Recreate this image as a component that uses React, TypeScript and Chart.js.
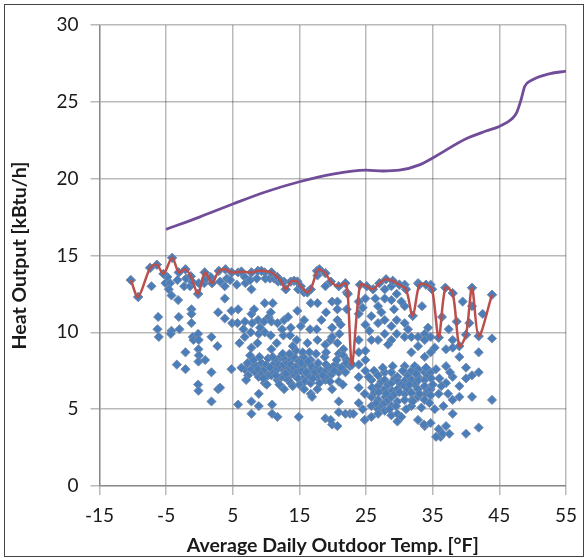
import { useEffect, useRef } from "react";
import { Chart, registerables } from "chart.js";

Chart.register(...registerables);

// Daily average outdoor temperature [°F] vs. measured heat output [kBtu/h]
const dailyPoints: [number, number][] = [
  // below -5 °F
  [-10.3, 13.4], [-9.2, 12.3], [-7.4, 14.2], [-7.2, 13.0], [-6.4, 14.4], [-6.2, 11.0], [-6.3, 10.2], [-6.1, 9.7],
  // -5 to 5 °F
  [-5.4, 13.8], [-5.1, 13.2], [-4.8, 13.6], [-4.1, 14.85], [-4.4, 13.2], [-4.6, 12.8], [-4.2, 12.4], [-4.2, 10.1], [-4.3, 9.9], [-3.4, 7.9],
  [-3.1, 13.9], [-3.3, 13.4], [-3.2, 12.1], [-3.1, 11.0], [-3.0, 10.2], [-2.1, 14.1], [-2.0, 13.5], [-2.3, 13.0], [-2.1, 8.7], [-2.1, 7.6],
  [-1.3, 13.65], [-1.4, 13.0], [-1.1, 13.3], [-1.2, 11.5], [-1.2, 11.2], [-1.2, 10.6], [-1.0, 9.7], [-0.9, 9.5],
  [-0.2, 12.5], [-0.1, 13.2], [-0.2, 9.9], [-0.1, 9.5], [-0.15, 8.9], [-0.1, 8.5], [-0.15, 8.1], [-0.2, 6.6], [-0.15, 6.2],
  [0.8, 13.9], [0.7, 13.2], [1.0, 13.5], [0.85, 8.2], [1.9, 13.2], [1.7, 13.6], [1.8, 9.7], [1.8, 7.4], [1.8, 5.5],
  [2.9, 14.0], [3.1, 13.3], [2.8, 11.3], [2.7, 9.1], [2.8, 6.3], [3.9, 14.1], [3.8, 13.0], [4.1, 13.5], [3.8, 12.2], [3.8, 10.9], [3.1, 6.4],
  [4.85, 13.9], [4.6, 13.4], [4.8, 11.4], [4.9, 10.6], [4.8, 7.6],
  // 5 to 15 °F
  [5.8, 13.9], [5.6, 13.1], [5.8, 11.5], [5.7, 10.6], [5.8, 5.3], [6.3, 13.95], [6.8, 13.6], [6.9, 13.2], [6.8, 10.7], [6.6, 10.2], [6.8, 9.7], [6.8, 7.6], [7.2, 8.0], [7.3, 7.2],
  [7.8, 13.9], [7.6, 13.4], [7.8, 12.8], [7.8, 11.2], [7.9, 10.6], [7.7, 10.0], [7.8, 9.0], [7.6, 8.5], [7.8, 7.6], [7.8, 5.5], [7.8, 4.7], [8.3, 7.9], [8.4, 7.4],
  [8.75, 14.0], [8.6, 13.5], [8.8, 10.8], [8.9, 9.9], [8.7, 9.3], [8.8, 7.6], [8.9, 7.1], [8.9, 6.0], [8.9, 5.2], [9.3, 14.0], [9.3, 8.0], [9.4, 7.3],
  [9.8, 13.9], [9.9, 13.5], [9.8, 11.9], [9.7, 10.7], [9.8, 10.0], [9.8, 7.6], [10.0, 7.9], [9.8, 6.7], [10.3, 8.3], [10.3, 7.2], [10.4, 11.0],
  [10.8, 13.9], [10.6, 13.5], [10.7, 11.3], [10.8, 10.7], [10.7, 9.8], [10.8, 8.9], [10.6, 7.7], [10.8, 7.2], [10.9, 5.3], [10.9, 4.7], [11.2, 13.5], [11.3, 8.0], [11.2, 7.4],
  [11.7, 13.6], [11.8, 13.3], [11.7, 10.6], [11.6, 9.3], [11.7, 8.2], [11.7, 7.6], [11.9, 7.9], [11.7, 6.9], [11.7, 4.5], [12.2, 13.35], [12.3, 7.7], [12.3, 7.1], [12.2, 8.4],
  [12.95, 12.8], [12.7, 13.3], [12.7, 10.8], [12.6, 9.8], [12.7, 8.3], [12.8, 7.6], [12.6, 7.9], [12.7, 7.1], [12.7, 6.3], [12.9, 7.4], [13.2, 8.0], [13.3, 7.6], [13.3, 6.9],
  [13.7, 13.3], [14.2, 13.35], [13.7, 10.3], [13.6, 9.8], [13.7, 8.2], [13.7, 7.6], [13.8, 7.3], [13.7, 7.9], [13.7, 6.7], [14.2, 7.7], [14.2, 8.4], [14.3, 7.2],
  [14.7, 13.3], [14.8, 12.8], [14.7, 11.4], [14.6, 9.5], [14.7, 7.8], [14.7, 7.4], [14.9, 8.1], [14.8, 7.0], [14.9, 4.5],
  [6.3, 7.7], [7.0, 6.9], [8.1, 8.2], [9.0, 8.4], [9.6, 7.0], [10.1, 6.6], [11.0, 8.4], [11.5, 7.2], [12.0, 6.6], [12.5, 8.6],
  [13.0, 7.3], [13.5, 8.6], [14.0, 6.5], [14.5, 8.8], [6.0, 9.3], [8.2, 11.5], [9.1, 10.3], [11.0, 11.9], [12.4, 10.2], [13.3, 11.0], [14.0, 9.1],
  // 15 to 25 °F
  [15.2, 13.0], [15.7, 12.6], [15.7, 10.8], [15.6, 8.4], [15.7, 7.6], [15.8, 7.1], [15.6, 7.9], [15.7, 6.3], [15.8, 6.8], [15.3, 7.5], [15.3, 8.0],
  [16.2, 12.6], [16.7, 12.8], [16.7, 11.9], [16.6, 10.2], [16.7, 8.2], [16.7, 7.5], [16.8, 7.8], [16.7, 6.7], [16.7, 6.0], [16.9, 5.8], [16.3, 7.2], [16.3, 8.1],
  [17.65, 14.0], [18.0, 14.1], [17.7, 13.7], [17.7, 11.9], [17.6, 10.2], [17.7, 9.5], [17.7, 7.7], [17.8, 8.0], [17.7, 7.1], [17.7, 6.3], [17.3, 7.4], [18.2, 7.5],
  [18.9, 13.85], [18.9, 13.0], [18.9, 9.2], [18.8, 8.4], [18.9, 7.5], [19.0, 7.9], [18.9, 6.9], [18.9, 4.4], [19.4, 7.7], [19.3, 7.1],
  [19.7, 13.3], [19.9, 12.0], [19.9, 10.3], [19.7, 9.5], [19.9, 9.7], [19.9, 7.7], [19.9, 7.3], [19.9, 6.3], [19.9, 4.0], [19.7, 4.3],
  [20.9, 13.0], [20.7, 12.0], [20.7, 11.5], [20.7, 10.8], [20.7, 9.3], [20.9, 8.6], [20.9, 7.4], [20.9, 6.8], [20.9, 5.5], [20.9, 4.8], [20.7, 3.9], [21.2, 10.5], [20.4, 7.9],
  [21.9, 13.2], [22.1, 12.6], [22.1, 11.5], [21.6, 8.9], [21.6, 8.5], [22.1, 8.2], [21.9, 7.4], [21.9, 4.7], [22.25, 12.5], [22.6, 7.8], [22.6, 4.7], [22.9, 7.9],
  [15.0, 6.6], [15.5, 8.7], [16.0, 7.4], [16.5, 8.7], [17.0, 7.0], [17.5, 8.6], [18.0, 6.7], [18.5, 7.2], [19.0, 8.7], [19.6, 6.8],
  [20.2, 7.5], [20.6, 8.2], [21.3, 7.7], [21.5, 6.6], [22.0, 8.0], [15.2, 10.4], [16.2, 9.3], [18.3, 10.8], [19.0, 11.3], [21.0, 9.9],
  [24.1, 13.1], [23.9, 12.0], [23.9, 11.2], [23.9, 9.5], [23.9, 8.7], [23.9, 7.9], [23.9, 7.1], [23.9, 6.4], [23.9, 5.4], [23.1, 4.7],
  [25.1, 13.0], [24.9, 12.2], [24.9, 10.5], [24.9, 8.8], [24.9, 8.2], [24.9, 7.5], [24.8, 6.0], [24.8, 4.3], [24.5, 5.0], [24.5, 11.6],
  // 25 to 35 °F
  [26.05, 12.8], [25.8, 11.05], [25.8, 9.5], [25.8, 6.9], [25.9, 6.4], [25.8, 5.8], [25.8, 5.2], [25.8, 4.5], [26.2, 7.5], [26.3, 6.1],
  [27.0, 13.2], [26.8, 11.7], [26.8, 10.6], [26.8, 9.5], [26.8, 7.2], [26.8, 6.5], [26.9, 6.1], [26.8, 5.6], [26.8, 5.0], [26.8, 4.7], [27.3, 6.8], [27.3, 5.3],
  [28.0, 13.45], [27.8, 12.8], [27.8, 12.2], [27.8, 10.8], [27.8, 9.9], [27.8, 7.4], [27.8, 6.9], [27.8, 6.3], [27.9, 5.8], [27.8, 5.4], [27.8, 4.9], [28.3, 6.6], [28.3, 5.6],
  [29.0, 13.35], [28.8, 13.0], [28.8, 12.1], [28.8, 10.4], [28.8, 9.5], [28.8, 7.4], [28.8, 6.7], [28.9, 6.2], [28.8, 5.8], [28.8, 5.2], [28.8, 4.6], [29.3, 7.0], [29.3, 6.0],
  [30.0, 13.1], [29.6, 12.5], [29.6, 10.8], [29.6, 9.9], [29.7, 7.1], [29.8, 6.8], [29.7, 6.3], [29.7, 5.5], [29.7, 4.7], [29.7, 4.2], [30.3, 4.5], [30.3, 6.6],
  [30.8, 13.1], [30.8, 11.7], [30.8, 10.6], [30.8, 9.7], [30.8, 7.8], [30.8, 7.4], [30.9, 6.9], [30.8, 6.5], [30.8, 6.0], [30.8, 5.6], [31.3, 7.2], [31.3, 6.3],
  [32.0, 11.07], [31.0, 12.8], [31.8, 9.7], [31.8, 8.7], [31.8, 7.5], [31.8, 6.9], [31.8, 6.05], [31.9, 5.6], [31.8, 5.2], [32.3, 7.8], [32.3, 6.6],
  [33.0, 13.1], [32.8, 13.2], [32.8, 9.7], [32.8, 9.1], [32.8, 7.6], [32.8, 7.1], [32.9, 6.9], [32.8, 6.3], [32.8, 5.8], [32.8, 4.3],
  [34.0, 13.1], [33.8, 9.9], [33.8, 9.5], [33.8, 8.4], [33.8, 7.4], [33.8, 6.9], [33.8, 6.5], [33.9, 6.0], [33.8, 5.6], [33.8, 3.9], [33.7, 4.0], [34.3, 7.2], [34.3, 6.2],
  [34.9, 12.8], [34.7, 13.1], [34.7, 9.7], [34.7, 8.7], [34.7, 7.4], [34.8, 7.0], [34.7, 6.3], [34.7, 5.9], [34.7, 4.1],
  [25.4, 7.1], [26.5, 5.4], [27.5, 7.7], [28.0, 6.0], [28.5, 5.0], [29.0, 7.8], [29.5, 5.2], [30.0, 6.1], [30.5, 7.5], [31.0, 5.0],
  [31.5, 6.6], [32.0, 5.5], [32.5, 7.3], [33.0, 6.0], [33.3, 5.1], [34.0, 7.7], [34.5, 5.4], [35.0, 6.6], [35.3, 5.0],
  [25.5, 10.1], [26.4, 12.2], [27.3, 11.3], [28.3, 9.2], [29.2, 11.5], [30.3, 12.0], [31.3, 10.2], [33.4, 11.7], [34.3, 10.3],
  // 35 °F and above
  [35.9, 9.65], [36.0, 7.0], [35.9, 6.0], [35.9, 3.7], [36.2, 3.2], [35.5, 3.2], [36.5, 3.4], [35.5, 7.6],
  [36.9, 12.9], [37.0, 8.9], [37.0, 7.8], [37.0, 6.7], [37.0, 3.9], [37.5, 3.4],
  [38.0, 12.55], [38.0, 9.5], [38.0, 9.0], [38.0, 7.1], [38.0, 5.6], [38.0, 4.7],
  [39.0, 9.1], [39.0, 8.4], [39.0, 6.5], [39.0, 5.8],
  [40.0, 9.85], [40.0, 7.7], [40.0, 7.0], [40.0, 3.4],
  [40.9, 12.9], [40.9, 11.7], [40.9, 7.2], [40.9, 5.8],
  [41.9, 9.75], [41.9, 8.7], [41.9, 7.4], [41.9, 3.8],
  [43.9, 12.45], [43.9, 9.6], [43.9, 5.6],
  [35.3, 9.0], [36.3, 6.5], [36.6, 5.2], [36.4, 11.0], [37.3, 6.0], [37.6, 7.4], [37.4, 10.2], [38.6, 10.7], [39.5, 12.0], [40.5, 10.6], [42.5, 11.2],
];

// Upper envelope of the daily values
const envelopeTemp = [
  -10.3, -9.2, -7.4, -6.4, -5.4, -4.1, -3.1, -2.1, -1.3, -0.2, 0.8, 1.9, 2.9, 3.9, 4.85, 6.3, 7.8, 8.75, 9.3,
  10.8, 11.7, 12.2, 12.95, 13.7, 14.2, 14.7, 15.2, 16.2, 16.7, 17.65, 18.0, 18.9, 19.7, 20.9, 21.9, 22.25, 22.9,
  24.1, 25.1, 26.05, 27.0, 28.0, 29.0, 30.0, 31.0, 32.0, 33.0, 34.0, 34.9, 35.9, 36.9, 38.0, 39.0, 40.0, 40.9,
  41.9, 43.9,
];
const envelopeHeat = [
  13.4, 12.3, 14.2, 14.4, 13.8, 14.85, 13.9, 14.1, 13.65, 12.5, 13.9, 13.2, 14.0, 14.1, 13.9, 13.95, 13.9, 14.0, 14.0,
  13.9, 13.6, 13.35, 12.8, 13.3, 13.35, 13.3, 13.0, 12.6, 12.8, 14.0, 14.1, 13.85, 13.3, 13.0, 13.2, 12.5, 7.9,
  13.1, 13.0, 12.8, 13.2, 13.45, 13.35, 13.1, 12.8, 11.07, 13.1, 13.1, 12.8, 9.65, 12.9, 12.55, 9.1, 9.85, 12.9,
  9.75, 12.45,
];

// Rated heating capacity
const capacityTemp = [-5, 0, 5, 10, 15, 20, 25, 27.5, 30, 33, 35, 40, 43, 45, 46.9, 47.6, 48.3, 48.8, 49.8, 52.3, 55];
const capacityHeat = [16.7, 17.5, 18.35, 19.15, 19.8, 20.3, 20.55, 20.5, 20.55, 20.9, 21.35, 22.6, 23.1, 23.4, 23.9, 24.3, 25.2, 26.0, 26.4, 26.8, 27.0];

const FONT = "Lato, 'Liberation Sans', sans-serif";
const GRID = "rgba(0,0,0,0.27)";

export default function App() {
  const canvasRef = useRef<HTMLCanvasElement | null>(null);

  useEffect(() => {
    const canvas = canvasRef.current;
    if (!canvas) return;

    const scatter = [
      ...dailyPoints.map(([x, y]) => ({ x, y })),
      ...envelopeTemp.map((x, i) => ({ x, y: envelopeHeat[i] })),
    ];

    const chart = new Chart(canvas, {
      type: "scatter",
      data: {
        datasets: [
          {
            type: "line",
            label: "Capacity",
            data: capacityTemp.map((x, i) => ({ x, y: capacityHeat[i] })),
            borderColor: "#714c98",
            borderWidth: 2.8,
            pointRadius: 0,
            cubicInterpolationMode: "monotone",
            fill: false,
            order: 0,
          },
          {
            type: "line",
            label: "Envelope",
            data: envelopeTemp.map((x, i) => ({ x, y: envelopeHeat[i] })),
            borderColor: "#bb4f4c",
            borderWidth: 2.5,
            pointRadius: 0,
            tension: 0.3,
            fill: false,
            order: 1,
          },
          {
            label: "Daily",
            data: scatter,
            pointStyle: "rectRot",
            pointRadius: 4.6,
            backgroundColor: "#4a7ebb",
            borderColor: "rgba(120,140,170,0.9)",
            borderWidth: 1,
            order: 2,
          },
        ],
      },
      options: {
        responsive: false,
        animation: false,
        devicePixelRatio: 1,
        layout: { padding: { top: 25, right: 14.5, left: 0, bottom: 0 } },
        plugins: {
          legend: { display: false },
          tooltip: { enabled: false },
        },
        scales: {
          x: {
            type: "linear",
            min: -15,
            max: 55,
            ticks: { stepSize: 10, padding: 9, color: "#1a1a1a", font: { family: FONT, size: 19 } },
            grid: { color: GRID, lineWidth: 1.5, tickLength: 9, tickColor: GRID },
            border: { color: GRID, width: 1.5 },
            title: {
              display: true,
              text: "Average Daily Outdoor Temp. [°F]",
              color: "#1a1a1a",
              font: { family: FONT, size: 19.5, weight: "bold" },
              padding: { top: 0, bottom: 1 },
            },
            afterFit: (scale: any) => {
              scale.height = 72;
            },
          },
          y: {
            type: "linear",
            min: 0,
            max: 30,
            ticks: { stepSize: 5, padding: 12, color: "#1a1a1a", font: { family: FONT, size: 19 } },
            grid: { color: GRID, lineWidth: 1.5, tickLength: 9, tickColor: GRID },
            border: { color: GRID, width: 1.5 },
            title: {
              display: true,
              text: "Heat Output [kBtu/h]",
              color: "#1a1a1a",
              font: { family: FONT, size: 19.5, weight: "bold" },
              padding: { top: 8, bottom: 0 },
            },
            afterFit: (scale: any) => {
              scale.width = 99.5;
            },
          },
        },
      },
    });

    return () => chart.destroy();
  }, []);

  return (
    <div style={{ position: "absolute", left: 0, top: 0, width: 586, height: 558, background: "#fff" }}>
      <canvas ref={canvasRef} width={586} height={558} style={{ display: "block" }} />
      <div
        style={{
          position: "absolute",
          left: 4,
          top: 4,
          width: 580,
          height: 553,
          border: "1.5px solid #444",
          boxSizing: "border-box",
          pointerEvents: "none",
        }}
      />
    </div>
  );
}
